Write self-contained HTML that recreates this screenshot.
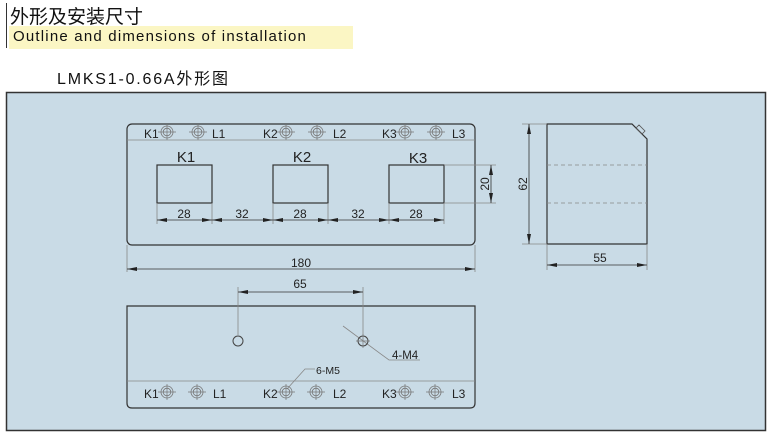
<!DOCTYPE html>
<html><head><meta charset="utf-8"><style>
body{margin:0;width:771px;height:435px;background:#fff;position:relative;overflow:hidden;font-family:"Liberation Sans","Noto Sans CJK SC",sans-serif}
.t{position:absolute;white-space:nowrap}
</style></head><body>
<div style="position:absolute;left:6px;top:3px;width:1px;height:45px;background:#333"></div>
<div class="t" style="left:10px;top:2px;font-size:19px;color:#111">外形及安装尺寸</div>
<div style="position:absolute;left:9px;top:26px;width:344px;height:23px;background:#fbf6c4"></div>
<div class="t" style="left:13px;top:28px;font-size:15px;letter-spacing:1.2px;color:#111">Outline and dimensions of installation</div>
<div class="t" style="left:57px;top:65px;font-size:16px;letter-spacing:1.8px;color:#111">LMKS1-0.66A外形图</div>
<svg width="771" height="435" style="position:absolute;left:0;top:0" font-family="Liberation Sans, sans-serif">
<defs>
<marker id="a" viewBox="0 0 10 4" refX="10" refY="2" markerWidth="10" markerHeight="4" orient="auto-start-reverse" markerUnits="userSpaceOnUse"><path d="M0,0L10,2L0,4z" fill="#222"/></marker>
<g id="tm"><circle r="6" fill="none" stroke="#777" stroke-width="0.8"/><circle r="3.8" fill="none" stroke="#777" stroke-width="0.8"/><path d="M-9,0H9M0,-8V8" stroke="#777" stroke-width="0.7"/></g>
</defs>
<rect x="6.5" y="92.5" width="759" height="338" fill="#c9dbe6" stroke="#333" stroke-width="1.5"/>
<g fill="none" stroke="#333" stroke-width="1.2">
<rect x="127" y="124" width="348" height="121" rx="5"/>
<rect x="157" y="165" width="55" height="38"/>
<rect x="273" y="165" width="55" height="38"/>
<rect x="389" y="165" width="55" height="38"/>
<path d="M127,306H475V403Q475,408 470,408H132Q127,408 127,403Z"/>
<path d="M547,124H632L647,139V244H547Z"/>
</g>
<g stroke="#888" stroke-width="0.8" fill="none">
<path d="M127,140H475M127,381H475"/>
<path d="M157,203V224M212,203V224M273,203V224M328,203V224M389,203V224M444,203V224"/>
<path d="M444,165H496M444,203H496"/>
<path d="M127,245V272M475,245V272"/>
<path d="M238,287V335M363,287V335"/>
<path d="M522,124H547M522,244H547M547,244V270M647,244V270"/>
<path d="M343,326L389,360H420M287,389L305,369H315"/>
</g>
<path d="M547,165H647M547,203H647" stroke="#888" stroke-width="0.8" stroke-dasharray="4,3"/>
<path d="M636,128l6,6l3,-3l-6,-6z" fill="none" stroke="#555" stroke-width="0.8"/>
<g stroke="#333" stroke-width="0.8" marker-start="url(#a)" marker-end="url(#a)">
<line x1="157" y1="220" x2="212" y2="220"/><line x1="212" y1="220" x2="273" y2="220"/>
<line x1="273" y1="220" x2="328" y2="220"/><line x1="328" y1="220" x2="389" y2="220"/>
<line x1="389" y1="220" x2="444" y2="220"/>
<line x1="127" y1="269" x2="475" y2="269"/>
<line x1="491" y1="165" x2="491" y2="203"/>
<line x1="238" y1="292" x2="363" y2="292"/>
<line x1="529" y1="124" x2="529" y2="244"/>
<line x1="547" y1="265" x2="647" y2="265"/>
</g>
<circle cx="238" cy="341" r="5" fill="none" stroke="#444" stroke-width="1"/>
<circle cx="363" cy="341" r="5" fill="none" stroke="#444" stroke-width="1"/>
<path d="M356,341H370M363,334V348" stroke="#777" stroke-width="0.7"/>
<g fill="#222" font-size="12">
<text x="184" y="218" text-anchor="middle">28</text>
<text x="242" y="218" text-anchor="middle">32</text>
<text x="300" y="218" text-anchor="middle">28</text>
<text x="358" y="218" text-anchor="middle">32</text>
<text x="416" y="218" text-anchor="middle">28</text>
<text x="301" y="267" text-anchor="middle">180</text>
<text x="300" y="288" text-anchor="middle">65</text>
<text x="600" y="262" text-anchor="middle">55</text>
<text transform="translate(489,184) rotate(-90)" text-anchor="middle">20</text>
<text transform="translate(527,184) rotate(-90)" text-anchor="middle">62</text>
<text x="392" y="359" font-size="11.5">4-M4</text>
<text x="316" y="374" font-size="10.5">6-M5</text>
</g>
<g fill="#222" font-size="15" text-anchor="middle">
<text x="186" y="162">K1</text><text x="302" y="162">K2</text><text x="418" y="163">K3</text>
</g>
<g fill="#222" font-size="12">
<text x="144" y="138">K1</text><text x="212" y="138">L1</text>
<text x="263" y="138">K2</text><text x="333" y="138">L2</text>
<text x="382" y="138">K3</text><text x="452" y="138">L3</text>
<text x="144" y="398">K1</text><text x="213" y="398">L1</text>
<text x="263" y="398">K2</text><text x="333" y="398">L2</text>
<text x="382" y="398">K3</text><text x="452" y="398">L3</text>
</g>
<use href="#tm" x="167" y="132"/><use href="#tm" x="198" y="132"/>
<use href="#tm" x="286" y="132"/><use href="#tm" x="317" y="132"/>
<use href="#tm" x="405" y="132"/><use href="#tm" x="436" y="132"/>
<use href="#tm" x="167" y="392"/><use href="#tm" x="197" y="392"/>
<use href="#tm" x="286" y="392"/><use href="#tm" x="316" y="392"/>
<use href="#tm" x="405" y="392"/><use href="#tm" x="435" y="392"/>
</svg>
</body></html>
